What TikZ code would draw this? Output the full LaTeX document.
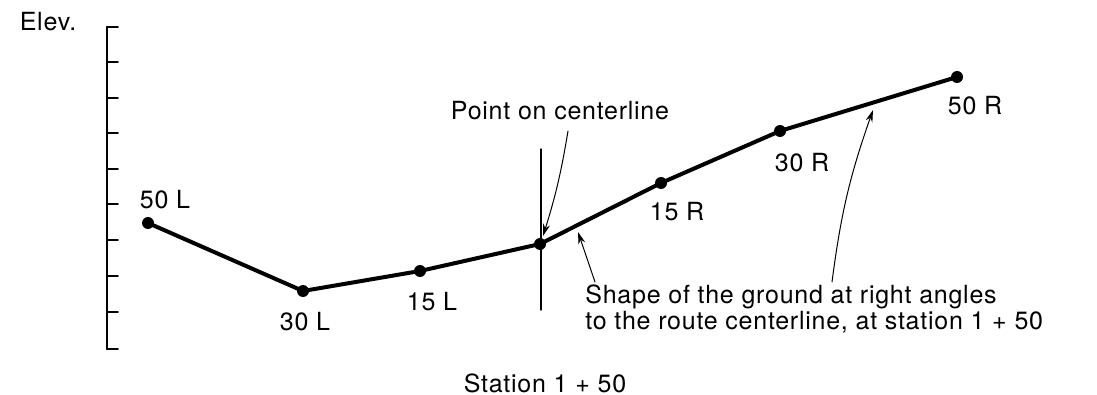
\documentclass[tikz,border=0pt]{standalone}
\usepackage{fontspec}
\setmainfont{TeX Gyre Heros}[LetterSpace=3]
\usetikzlibrary{arrows.meta}

\begin{document}
\begin{tikzpicture}[
  x={(0.5pt,0pt)},
  y={(0pt,-0.5pt)},
  line join=round,
  line cap=round,
  ground/.style={draw=black,line width=2pt},
  lbl/.style={font=\fontsize{12.5}{10.5}\selectfont,inner sep=0pt,anchor=base},
  pointer/.style={draw=black,line width=0.5pt,-{Stealth[length=6pt,width=3.5pt]}}
]
  \useasboundingbox (0,0) rectangle (1097,395);

  % Elevation scale.
  \draw[line width=1pt] (107,27) -- (107,349);
  \foreach \y in {27,62,98,133,169,204,240,276,312,349} {
    \draw[line width=0.8pt] (107,\y) -- (118,\y);
  }
  \node[lbl] (elev) at (48,31) {Elev.};

  % Ground profile points.
  \coordinate (l50) at (148,223);
  \coordinate (l30) at (303,291);
  \coordinate (l15) at (420,271);
  \coordinate (c0) at (540,244);
  \coordinate (r15) at (661,183);
  \coordinate (r30) at (780,131);
  \coordinate (r50) at (957,77);

  % Route centerline.
  \coordinate (cltop) at (541,149);
  \coordinate (clbot) at (541,310);
  \draw[line width=0.7pt] (cltop) -- (clbot);

  % Ground line.
  \draw[ground] (l50) -- (l30) -- (l15) -- (c0) -- (r15) -- (r30) -- (r50);
  \foreach \p in {l50,l30,l15,c0,r15,r30,r50} {
    \fill[black] (\p) circle[radius=3pt];
  }

  % Offset labels.
  \node[lbl] (tl50) at (165,209) {50 L};
  \node[lbl] (tl30) at (305,330) {30 L};
  \node[lbl] (tl15) at (432,310) {15 L};
  \node[lbl] (tr15) at (677,221) {15 R};
  \node[lbl] (tr30) at (802,172) {30 R};
  \node[lbl] (tr50) at (975,115) {50 R};

  % Notes.
  \node[lbl] (point) at (560,120) {Point on centerline};
  \node[lbl,anchor=base west,align=left] (shape) at (585,329)
    {Shape of the ground at right angles\\to the route centerline, at station 1 + 50};
  \node[lbl] (station) at (545,392) {Station 1 + 50};

  % Pointers.
  \coordinate (ptail) at (568,131);
  \coordinate (phead) at (543,236);
  \coordinate (stail1) at (595,282);
  \coordinate (shead1) at (578,232);
  \coordinate (stail2) at (832,282);
  \coordinate (shead2) at (873,110);
  \draw[pointer] (ptail) to[bend left=4] (phead);
  \draw[pointer] (stail1) -- (shead1);
  \draw[pointer] (stail2) to[bend left=6] (shead2);
\end{tikzpicture}
\end{document}
